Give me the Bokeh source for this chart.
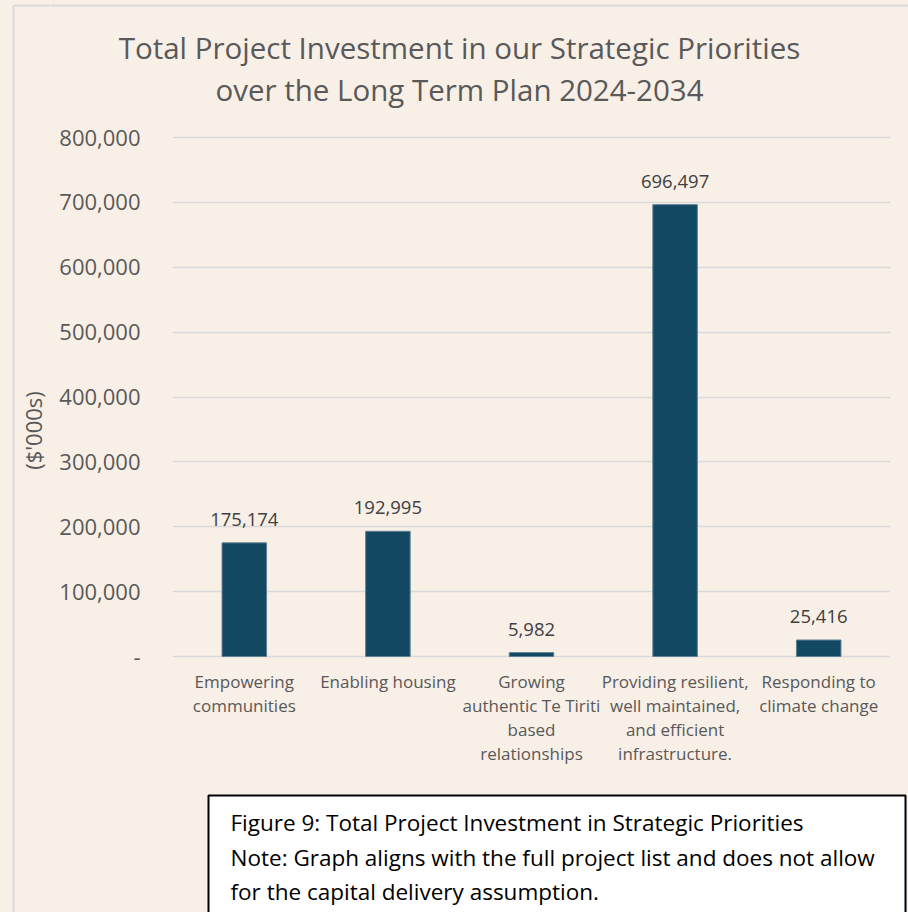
import math
from bokeh.plotting import figure
from bokeh.layouts import row, column
from bokeh.models import (ColumnDataSource, LabelSet, Range1d, FactorRange,
                          NumeralTickFormatter, FixedTicker)
from bokeh.core.properties import value
from bokeh.embed import file_html
from bokeh.resources import INLINE

# ---------------- data ----------------
categories = [
    "Empowering communities",
    "Enabling housing",
    "Growing authentic Te Tiriti based relationships",
    "Providing resilient, well maintained, and efficient infrastructure.",
    "Responding to climate change",
]
category_labels = [
    "Empowering\ncommunities",
    "Enabling housing",
    "Growing\nauthentic Te Tiriti\nbased\nrelationships",
    "Providing resilient,\nwell maintained,\nand efficient\ninfrastructure.",
    "Responding to\nclimate change",
]
values = [175174, 192995, 5982, 696497, 25416]
value_labels = ["175,174", "192,995", "5,982", "696,497", "25,416"]
y_ticks = [0, 100000, 200000, 300000, 400000, 500000, 600000, 700000, 800000]
y_max = 800000
title_lines = ["Total Project Investment in our Strategic Priorities",
               "over the Long Term Plan 2024-2034"]
y_axis_title = "($'000s)"
caption_lines = ["Figure 9: Total Project Investment in Strategic Priorities",
                 "Note: Graph aligns with the full project list and does not allow",
                 "for the capital delivery assumption."]

# ---------------- style / layout ----------------
FONT = "Open Sans"
BG = "#F8EFE7"
BAR = "#124861"
GRID = "#D9D9D9"
GREY = "#595959"

PAGE_W, PAGE_H = 908, 912
STRIP_W = 50
RIGHT_W = PAGE_W - STRIP_W
HEAD_H = 118
MAIN_H = 675
CAP_H = PAGE_H - HEAD_H - MAIN_H

TOP_Y = 137        # page y of the top gridline
ZERO_Y = 656       # page y of the zero line
FRAME_TOP = 128    # page y of frame top (a little above the top gridline)
FRAME_BOTTOM = 785 # page y of frame bottom (room for category labels)
FRAME_LEFT = 172
FRAME_RIGHT = 890


def blank_fig(w, h, x0, x1, y0, y1):
    f = figure(width=w, height=h, x_range=Range1d(x0, x1), y_range=Range1d(y1, y0),
               output_backend="svg", toolbar_location=None, frame_align=False,
               x_axis_location=None, y_axis_location=None, min_border=0)
    f.grid.visible = False
    f.outline_line_color = None
    f.background_fill_color = BG
    f.border_fill_color = BG
    return f


# left strip: page border line + y axis title
strip = blank_fig(STRIP_W, PAGE_H, 0, STRIP_W, 0, PAGE_H)
strip.segment(x0=[13, 13], y0=[5, 5], x1=[13, STRIP_W], y1=[PAGE_H, 5],
              line_color=GRID, line_width=2)
strip.text(x=[32], y=[430], text=[y_axis_title], angle=math.pi / 2,
           text_align="center", text_baseline="middle",
           text_font=value(FONT), text_font_size="22px", text_color=GREY)

# header: title
head = blank_fig(RIGHT_W, HEAD_H, STRIP_W, PAGE_W, 0, HEAD_H)
head.segment(x0=[STRIP_W], y0=[5], x1=[PAGE_W], y1=[5], line_color=GRID, line_width=2)
head.text(x=[459, 459], y=[47, 89], text=title_lines,
          text_align="center", text_baseline="middle",
          text_font=value(FONT), text_font_size="29.5px", text_color=GREY)

# main chart
px_per_unit = (ZERO_Y - TOP_Y) / y_max
y_bottom = -(FRAME_BOTTOM - ZERO_Y) / px_per_unit
y_top = y_max + (TOP_Y - FRAME_TOP) / px_per_unit

src = ColumnDataSource(dict(cat=categories, val=values, lab=value_labels, clab=category_labels))

p = figure(width=RIGHT_W, height=MAIN_H,
           x_range=FactorRange(factors=categories, range_padding=0, factor_padding=0),
           y_range=Range1d(y_bottom, y_top),
           output_backend="svg", toolbar_location=None, x_axis_location=None,
           frame_align=False,
           min_border_left=FRAME_LEFT - STRIP_W, min_border_right=PAGE_W - FRAME_RIGHT,
           min_border_top=FRAME_TOP - HEAD_H,
           min_border_bottom=(HEAD_H + MAIN_H) - FRAME_BOTTOM)
p.background_fill_color = BG
p.border_fill_color = BG
p.outline_line_color = None

p.vbar(x="cat", top="val", width=0.31, source=src,
       fill_color=BAR, line_color="#5F8294", line_width=1)

p.add_layout(LabelSet(x="cat", y="val", text="lab", source=src,
                      text_align="center", text_baseline="alphabetic", y_offset=17,
                      text_font=value(FONT), text_font_size="18.5px", text_color="#404040"))

p.text(x="cat", y=0, text="clab", source=src, y_offset=13,
       text_align="center", text_baseline="top", text_line_height=1.05,
       text_font=value(FONT), text_font_size="17px", text_color=GREY)

p.xgrid.grid_line_color = None
p.ygrid.grid_line_color = GRID
p.ygrid.grid_line_width = 1.5
p.yaxis.ticker = FixedTicker(ticks=y_ticks)
p.yaxis.formatter = NumeralTickFormatter(format="0,0")
p.yaxis.major_label_overrides = {0: "-"}
p.yaxis.axis_line_color = None
p.yaxis.major_tick_line_color = None
p.yaxis.minor_tick_line_color = None
p.yaxis.major_tick_out = 0
p.yaxis.major_label_standoff = 32
p.yaxis.major_label_text_font = FONT
p.yaxis.major_label_text_font_size = "22px"
p.yaxis.major_label_text_color = GREY

# caption box
cap_top = HEAD_H + MAIN_H
cap = blank_fig(RIGHT_W, CAP_H, STRIP_W, PAGE_W, cap_top, PAGE_H)
cap.quad(left=[208], right=[905], top=[795], bottom=[PAGE_H + 10],
         fill_color="#FFFFFF", line_color="#000000", line_width=2)
cap.text(x=[230, 230, 230], y=[822, 857, 891], text=caption_lines,
         text_align="left", text_baseline="middle",
         text_font=value(FONT), text_font_size="22.5px", text_color="#000000")

layout = row(strip, column(head, p, cap))

open("out.html", "w").write(
    file_html(layout, INLINE).replace("<body>", "<body style=\"background-color:#F8EFE7;\">"))
